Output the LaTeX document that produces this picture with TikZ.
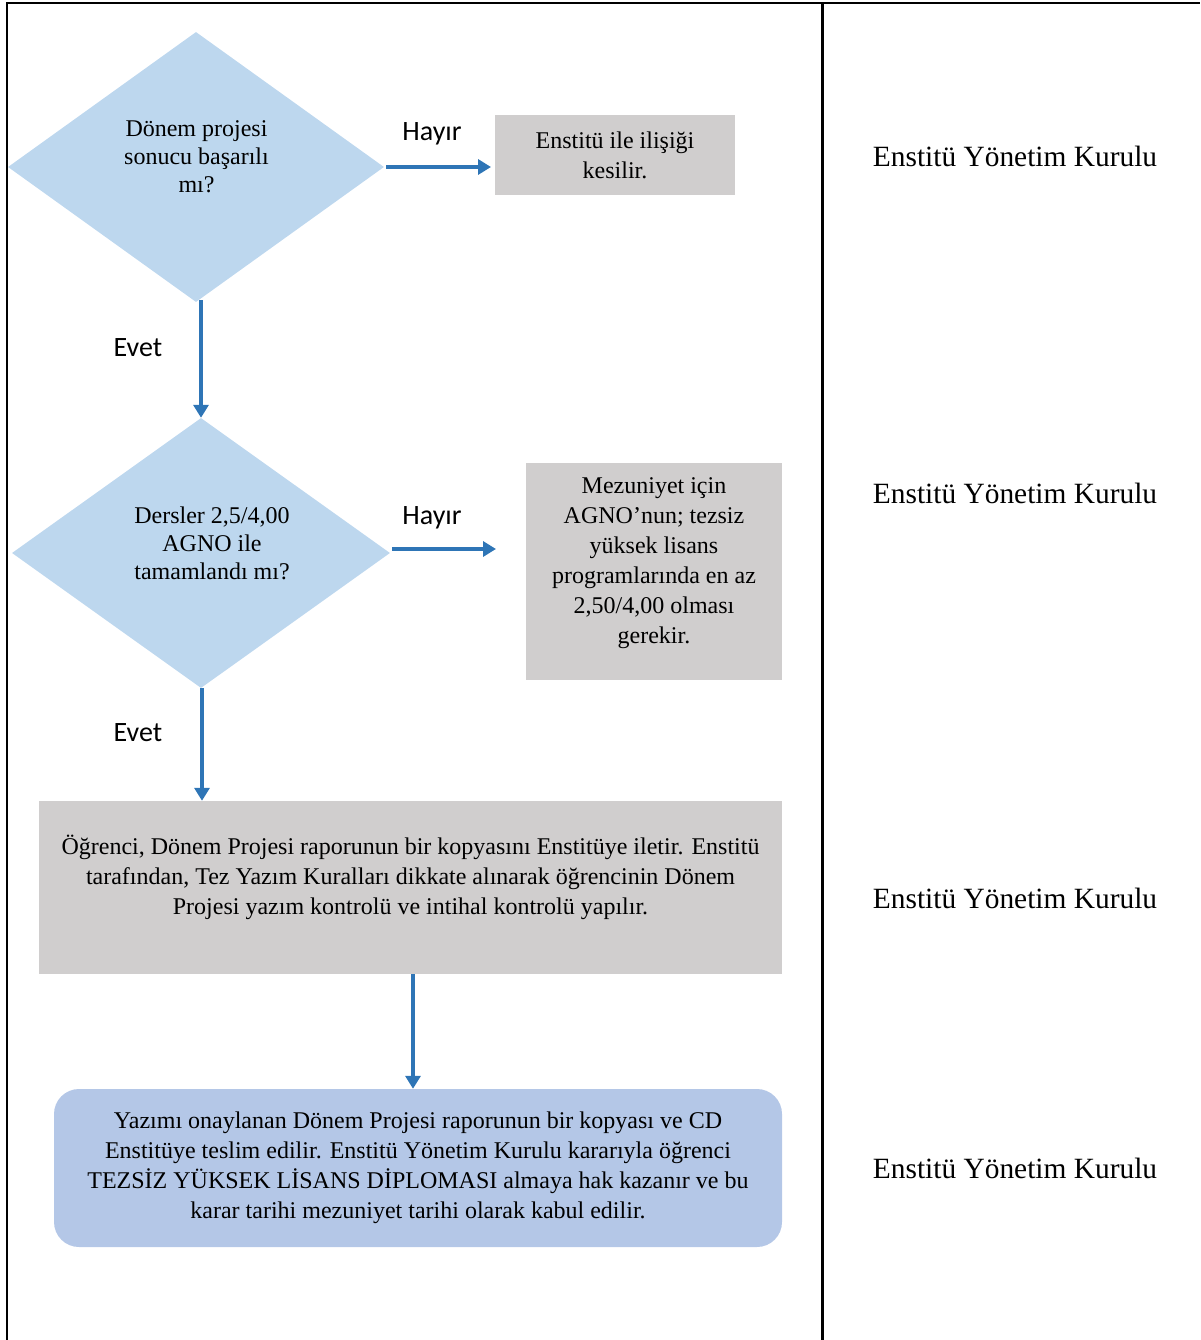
\documentclass[tikz,border=0pt]{standalone}
\usepackage{fontspec}
\setmainfont{Liberation Serif}
\newfontfamily\calib{Carlito}
\usetikzlibrary{shapes.geometric,arrows.meta}
\definecolor{dfill}{HTML}{BDD7EE}
\definecolor{gfill}{HTML}{D0CECE}
\definecolor{bfill}{HTML}{B4C7E7}
\definecolor{arr}{HTML}{2E75B6}
\begin{document}
\begin{tikzpicture}[x=1pt,y=-1pt,
  dec/.style={diamond, fill=dfill, inner sep=0pt},
  gbox/.style={rectangle, fill=gfill, inner sep=0pt},
  bbox/.style={rectangle, rounded corners=25pt, fill=bfill, inner sep=0pt},
  flow/.style={draw=arr, line width=3.8pt, -{Triangle[length=13pt,width=15pt]}},
  lab/.style={font=\calib\fontsize{28}{34}\selectfont, inner sep=0pt},
  txt/.style={align=center, font=\fontsize{24}{30}\selectfont, inner sep=0pt},
  dtxt/.style={align=center, font=\fontsize{24}{28}\selectfont, inner sep=0pt},
  side/.style={font=\fontsize{29.4}{35}\selectfont, inner sep=0pt},
  rule/.style={line width=2.5pt, black}]
\useasboundingbox (0,0) rectangle (1200,1340);
% frame
\draw[rule] (7,1340) -- (7,3) -- (1200,3);
\draw[rule] (822.5,3) -- (822.5,1340);
% decision 1
\node[dec, minimum width=376pt, minimum height=270pt] (d1) at (196,167) {};
\node[dtxt] (t1) at (196.5,157) {Dönem projesi\\sonucu başarılı\\mı?};
\node[gbox, txt, minimum width=240pt, minimum height=80pt] (b1) at (615,155) {Enstitü ile ilişiği\\kesilir.};
\coordinate (c1) at (491,167);
\draw[flow] ([xshift=2pt]d1.east) -- (c1);
\node[lab] (h1) at (432,134) {Hayır};
% decision 2
\node[dec, minimum width=378pt, minimum height=270pt] (d2) at (201,553) {};
\node[dtxt] (t2) at (212,543) {Dersler 2,5/4,00\\AGNO ile\\tamamlandı mı?};
\draw[flow] ([yshift=2pt]d2.north |- d1.south) -- (d2.north);
\node[lab] (e1) at (138,348) {Evet};
\node[gbox, minimum width=256pt, minimum height=217pt] (b2) at (654,571.5) {};
\node[txt] (t2b) at (654,563.5) {Mezuniyet için\\AGNO’nun; tezsiz\\yüksek lisans\\programlarında en az\\2,50/4,00 olması\\gerekir.};
\coordinate (c2) at (496,549);
\draw[flow] ([xshift=2pt]d2.east |- c2) -- (c2);
\node[lab] (h2) at (432,518) {Hayır};
% process box
\node[gbox, minimum width=743pt, minimum height=173pt] (b3) at (410.5,887.5) {};
\node[txt] (t3) at (410.5,877) {Öğrenci, Dönem Projesi raporunun bir kopyasını Enstitüye iletir. Enstitü\\tarafından, Tez Yazım Kuralları dikkate alınarak öğrencinin Dönem\\Projesi yazım kontrolü ve intihal kontrolü yapılır.};
\draw[flow] ([xshift=1pt]d2.south) -- ([xshift=1pt]d2.south |- b3.north);
\node[lab] (e2) at (138,733) {Evet};
% final box
\node[bbox, txt, minimum width=728pt, minimum height=158pt] (b4) at (418,1168) {Yazımı onaylanan Dönem Projesi raporunun bir kopyası ve CD\\Enstitüye teslim edilir. Enstitü Yönetim Kurulu kararıyla öğrenci\\TEZSİZ YÜKSEK LİSANS DİPLOMASI almaya hak kazanır ve bu\\karar tarihi mezuniyet tarihi olarak kabul edilir.};
\draw[flow] ([xshift=2.5pt]b3.south) -- ([xshift=2.5pt]b3.south |- b4.north);
% responsible
\node[side] (s1) at (1015,156) {Enstitü Yönetim Kurulu};
\node[side] (s2) at (1015,493) {Enstitü Yönetim Kurulu};
\node[side] (s3) at (1015,898) {Enstitü Yönetim Kurulu};
\node[side] (s4) at (1015,1168) {Enstitü Yönetim Kurulu};
\end{tikzpicture}
\end{document}
